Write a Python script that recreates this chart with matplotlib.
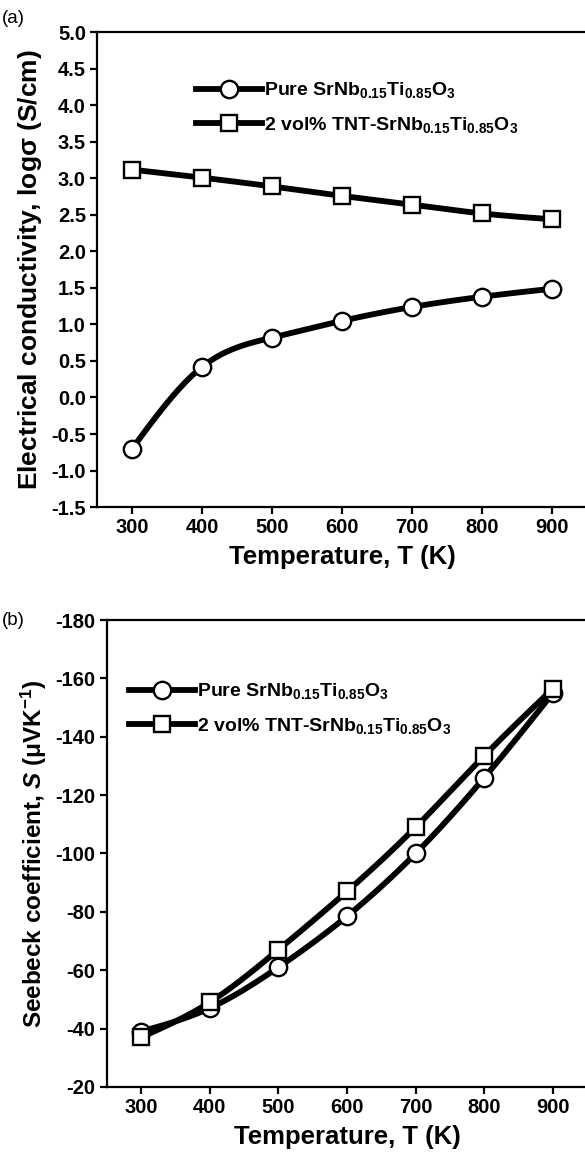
import numpy as np
import matplotlib
matplotlib.use('Agg')
import matplotlib.pyplot as plt
from matplotlib.lines import Line2D

plt.rcParams['font.family'] = ['Liberation Sans', 'DejaVu Sans']
plt.rcParams['font.weight'] = 'bold'
plt.rcParams['axes.unicode_minus'] = False
plt.rcParams['mathtext.fontset'] = 'custom'
plt.rcParams['mathtext.rm'] = 'Liberation Sans:bold'
plt.rcParams['mathtext.it'] = 'Liberation Sans:bold:italic'
plt.rcParams['mathtext.bf'] = 'Liberation Sans:bold'

temps = np.array([300, 400, 500, 600, 700, 800, 900])

# (a) log sigma
cond_pure = np.array([-0.70, 0.42, 0.82, 1.05, 1.24, 1.38, 1.49])
cond_tnt = np.array([3.12, 3.01, 2.89, 2.76, 2.64, 2.52, 2.44])

# (b) Seebeck
seeb_pure = np.array([-39, -47, -61, -78.5, -100, -126, -155])
seeb_tnt = np.array([-37, -49, -67, -87, -109, -133.5, -156.5])

lab_pure = r'Pure SrNb$_{\mathrm{0.15}}$Ti$_{\mathrm{0.85}}$O$_{\mathrm{3}}$'
lab_tnt = r'2 vol% TNT-SrNb$_{\mathrm{0.15}}$Ti$_{\mathrm{0.85}}$O$_{\mathrm{3}}$'

LW = 4.2
MEW = 1.7


def spline(x, y, n=200):
    # natural cubic spline, only used to draw the smooth line through the points
    x = x.astype(float)
    y = y.astype(float)
    k = len(x)
    h = np.diff(x)
    A = np.zeros((k, k))
    b = np.zeros(k)
    A[0, 0] = A[-1, -1] = 1
    for i in range(1, k - 1):
        A[i, i - 1] = h[i - 1]
        A[i, i] = 2 * (h[i - 1] + h[i])
        A[i, i + 1] = h[i]
        b[i] = 3 * ((y[i + 1] - y[i]) / h[i] - (y[i] - y[i - 1]) / h[i - 1])
    c = np.linalg.solve(A, b)
    xs = np.linspace(x[0], x[-1], n)
    idx = np.clip(np.searchsorted(x, xs) - 1, 0, k - 2)
    dx = xs - x[idx]
    bb = (y[idx + 1] - y[idx]) / h[idx] - h[idx] * (2 * c[idx] + c[idx + 1]) / 3
    dd = (c[idx + 1] - c[idx]) / (3 * h[idx])
    ys = y[idx] + bb * dx + c[idx] * dx ** 2 + dd * dx ** 3
    return xs, ys


def draw(ax, y1, y2):
    for y, m in [(y1, 'o'), (y2, 's')]:
        xs, ys = spline(temps, y)
        ax.plot(xs, ys, color='black', lw=LW, zorder=2)
        ax.plot(temps, y, linestyle='none', marker=m, ms=12.5 if m == 'o' else 11.5,
                mfc='white', mec='black', mew=MEW, zorder=3)
    ax.set_xlim(250, 950)
    ax.set_xticks(temps)
    ax.spines['right'].set_visible(False)
    for s in ['left', 'bottom', 'top']:
        ax.spines[s].set_linewidth(1.6)
    ax.tick_params(direction='out', length=5, width=1.6, labelsize=14.5, pad=3)
    ax.set_xlabel('Temperature, T (K)', fontsize=18.5, fontweight='bold', labelpad=6)


def legend(ax, loc):
    h1 = Line2D([], [], color='black', lw=LW, marker='o', ms=12.5, mfc='white', mec='black', mew=MEW)
    h2 = Line2D([], [], color='black', lw=LW, marker='s', ms=11.5, mfc='white', mec='black', mew=MEW)
    ax.legend([h1, h2], [lab_pure, lab_tnt], loc='upper left', bbox_to_anchor=loc,
              frameon=False, handlelength=3.4, handletextpad=0.1, labelspacing=0.75,
              prop={'size': 14, 'weight': 'bold'}, borderaxespad=0)


fig = plt.figure(figsize=(5.85, 11.55), dpi=100)

ax1 = fig.add_axes([0.166, 0.561, 0.838, 0.411])
draw(ax1, cond_pure, cond_tnt)
ax1.set_ylim(-1.5, 5.0)
ax1.set_yticks(np.arange(-1.5, 5.01, 0.5))
ax1.set_yticklabels(['%.1f' % v for v in np.arange(-1.5, 5.01, 0.5)])
ax1.set_ylabel(r'Electrical conductivity, log$\mathrm{\sigma}$ (S/cm)', fontsize=19,
               fontweight='bold', labelpad=5)
legend(ax1, (0.185, 0.915))
fig.text(0.003, 0.984, '(a)', fontsize=13.5, fontweight='normal', va='center')

ax2 = fig.add_axes([0.1824, 0.0589, 0.8215, 0.4043])
draw(ax2, seeb_pure, seeb_tnt)
ax2.set_ylim(-20, -180)
ax2.set_yticks(np.arange(-180, -19, 20))
ax2.set_ylabel(r'Seebeck coefficient, $S$ ($\mathrm{\mu}$VK$^{\mathrm{-1}}$)', fontsize=17.5,
               fontweight='bold', labelpad=5)
legend(ax2, (0.03, 0.885))
fig.text(0.003, 0.463, '(b)', fontsize=13.5, fontweight='normal', va='center')

fig.savefig('out.png', dpi=100)
